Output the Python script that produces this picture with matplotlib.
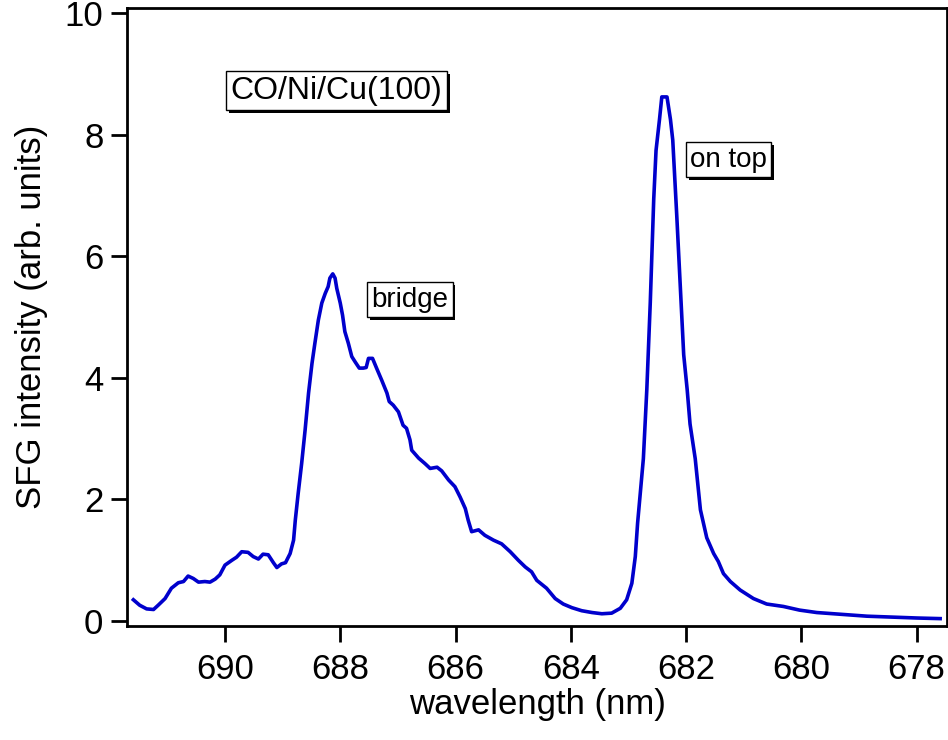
import matplotlib
matplotlib.use("Agg")
import matplotlib.pyplot as plt
import matplotlib.patheffects as pe

plt.rcParams['font.family'] = ['Liberation Sans', 'DejaVu Sans']

# SFG spectrum
wavelength = [691.59, 691.48, 691.36, 691.24, 691.16, 691.04, 690.93, 690.81, 690.72, 690.64,
              690.55, 690.46, 690.35, 690.26, 690.17, 690.09, 690.00, 689.88, 689.80, 689.71,
              689.60, 689.51, 689.42, 689.34, 689.25, 689.16, 689.10, 689.02, 688.95, 688.87,
              688.81, 688.78, 688.73, 688.67, 688.61, 688.55, 688.49, 688.44, 688.38, 688.32,
              688.26, 688.21, 688.18, 688.13, 688.09, 688.06, 688.00, 687.96, 687.92, 687.86,
              687.80, 687.74, 687.67, 687.60, 687.55, 687.51, 687.44, 687.37, 687.28, 687.19,
              687.15, 687.08, 686.99, 686.91, 686.85, 686.79, 686.76, 686.64, 686.53, 686.44,
              686.32, 686.24, 686.12, 686.01, 685.92, 685.83, 685.78, 685.72, 685.60, 685.49,
              685.34, 685.20, 685.05, 684.91, 684.79, 684.68, 684.59, 684.42, 684.27, 684.13,
              683.98, 683.81, 683.63, 683.46, 683.29, 683.14, 683.03, 682.94, 682.88, 682.84,
              682.74, 682.68, 682.62, 682.56, 682.52, 682.46, 682.42, 682.33, 682.27, 682.23,
              682.16, 682.10, 682.04, 681.98, 681.93, 681.84, 681.75, 681.64, 681.52, 681.44,
              681.35, 681.23, 681.06, 680.83, 680.60, 680.31, 680.03, 679.73, 679.44, 679.15,
              678.86, 678.57, 678.28, 677.99, 677.59]
intensity = [0.35, 0.26, 0.20, 0.19, 0.26, 0.37, 0.54, 0.63, 0.65, 0.74,
             0.70, 0.64, 0.65, 0.64, 0.69, 0.76, 0.92, 1.00, 1.05, 1.14,
             1.13, 1.06, 1.02, 1.10, 1.09, 0.96, 0.88, 0.94, 0.96, 1.11,
             1.33, 1.66, 2.10, 2.59, 3.14, 3.75, 4.24, 4.57, 4.95, 5.23,
             5.39, 5.50, 5.64, 5.71, 5.64, 5.47, 5.23, 5.03, 4.76, 4.57,
             4.35, 4.26, 4.16, 4.16, 4.17, 4.32, 4.32, 4.16, 3.96, 3.75,
             3.61, 3.55, 3.44, 3.22, 3.17, 2.98, 2.81, 2.68, 2.59, 2.51,
             2.53, 2.47, 2.32, 2.21, 2.04, 1.85, 1.66, 1.47, 1.50, 1.41,
             1.33, 1.27, 1.14, 1.00, 0.89, 0.81, 0.67, 0.54, 0.37, 0.28,
             0.22, 0.17, 0.14, 0.12, 0.13, 0.21, 0.35, 0.62, 1.06, 1.61,
             2.67, 3.81, 5.24, 6.94, 7.74, 8.25, 8.62, 8.62, 8.25, 7.91,
             6.66, 5.52, 4.38, 3.81, 3.24, 2.67, 1.83, 1.37, 1.11, 0.98,
             0.78, 0.65, 0.51, 0.37, 0.28, 0.24, 0.18, 0.14, 0.12, 0.10,
             0.08, 0.07, 0.06, 0.05, 0.04]

x_ticks = [690, 688, 686, 684, 682, 680, 678]
y_ticks = [0, 2, 4, 6, 8, 10]

fig = plt.figure(figsize=(9.48, 7.4), dpi=100)
ax = fig.add_axes([0.134, 0.154, 0.865, 0.835])

ax.plot(wavelength, intensity, color='#0000cc', lw=2.6)

ax.set_xlim(691.70, 677.47)
ax.set_ylim(-0.082, 10.08)
ax.set_xticks(x_ticks)
ax.set_yticks(y_ticks)

for s in ax.spines.values():
    s.set_linewidth(2)
ax.tick_params(axis='both', direction='out', length=11.5, width=2, labelsize=25)
ax.tick_params(axis='x', pad=8)
ax.tick_params(axis='y', pad=5.5)

ax.set_xlabel('wavelength (nm)', fontsize=25, labelpad=1)
ax.set_ylabel('SFG intensity (arb. units)', fontsize=25, labelpad=12)

# labelled boxes with a drop shadow, like the original
def box_label(x, y, txt, size):
    t = ax.text(x, y, txt, transform=ax.transAxes, fontsize=size,
                ha='center', va='center',
                bbox=dict(boxstyle='square,pad=0.15', fc='white', ec='black', lw=1))
    t.get_bbox_patch().set_path_effects([
        pe.SimplePatchShadow(offset=(2, -2), shadow_rgbFace='black', alpha=1),
        pe.Normal()])

box_label(0.2555, 0.8665, 'CO/Ni/Cu(100)', 23)
box_label(0.3451, 0.5283, 'bridge', 20)
box_label(0.7335, 0.7549, 'on top', 20)

fig.savefig('out.png', dpi=100)
